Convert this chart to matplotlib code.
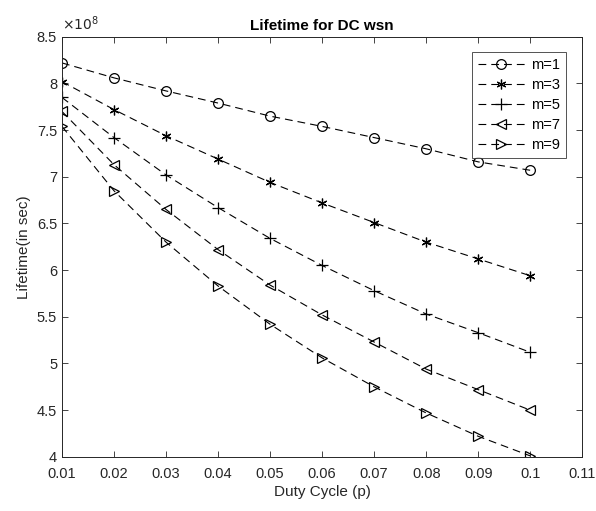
import numpy as np
import matplotlib
matplotlib.use('Agg')
import matplotlib.pyplot as plt
from matplotlib.ticker import FuncFormatter

plt.rcParams['font.family'] = ['Liberation Sans', 'DejaVu Sans']

duty = [0.01, 0.02, 0.03, 0.04, 0.05, 0.06, 0.07, 0.08, 0.09, 0.1]

# lifetime in units of 1e8 s
m1 = [8.22, 8.06, 7.92, 7.79, 7.65, 7.54, 7.42, 7.30, 7.16, 7.07]
m3 = [8.02, 7.72, 7.44, 7.19, 6.94, 6.72, 6.51, 6.30, 6.12, 5.94]
m5 = [7.85, 7.42, 7.02, 6.67, 6.34, 6.05, 5.78, 5.53, 5.33, 5.12]
m7 = [7.70, 7.13, 6.65, 6.22, 5.84, 5.52, 5.23, 4.94, 4.72, 4.50]
m9 = [7.54, 6.85, 6.30, 5.83, 5.42, 5.06, 4.75, 4.47, 4.22, 4.01]

series = [m1, m3, m5, m7, m9]
labels = ['m=1', 'm=3', 'm=5', 'm=7', 'm=9']
markers = ['o', (6, 2, 0), '+', '<', '>']

fig = plt.figure(figsize=(5.96, 5.11), dpi=100)
ax = fig.add_axes([0.104, 0.106, 0.873, 0.822])

for vals, lab, mk in zip(series, labels, markers):
    ms = 8 if mk == '+' else 7
    ax.plot(duty, np.array(vals) * 1e8, linestyle=(0, (7, 4.5)), color='black',
            linewidth=0.8, marker=mk, markersize=ms, markerfacecolor='none',
            markeredgecolor='black', markeredgewidth=0.9, label=lab)

ax.set_xlim(0.01, 0.11)
ax.set_ylim(4e8, 8.5e8)
ax.set_xticks(np.arange(0.01, 0.111, 0.01))
ax.set_xticklabels(['0.01', '0.02', '0.03', '0.04', '0.05', '0.06', '0.07',
                    '0.08', '0.09', '0.1', '0.11'])
ax.set_yticks(np.arange(4e8, 8.51e8, 0.5e8))
ax.yaxis.set_major_formatter(FuncFormatter(lambda v, p: '%g' % round(v / 1e8, 2)))
ax.text(0.0, 1.008, r'$\times10^{8}$', transform=ax.transAxes, fontsize=10,
        color='#262626', ha='left', va='bottom')

ax.tick_params(direction='in', top=True, right=True, labelsize=10.5,
               colors='#262626', length=4, width=0.6)
ax.tick_params(axis='x', pad=7)
for s in ax.spines.values():
    s.set_color('#262626')
    s.set_linewidth(0.7)

ax.set_xlabel('Duty Cycle (p)', fontsize=11, color='#262626', labelpad=3)
ax.set_ylabel('Lifetime(in sec)', fontsize=11, color='#262626')
ax.set_title('Lifetime for DC wsn', fontsize=11, fontweight='bold', pad=5)

leg = ax.legend(loc='upper right', bbox_to_anchor=(0.969, 0.964), borderaxespad=0,
                fontsize=10.5, fancybox=False, edgecolor='#262626', handlelength=3.2,
                borderpad=0.45, labelspacing=0.4, handletextpad=0.4)
leg.get_frame().set_linewidth(0.7)

fig.savefig('out.png', dpi=100)
